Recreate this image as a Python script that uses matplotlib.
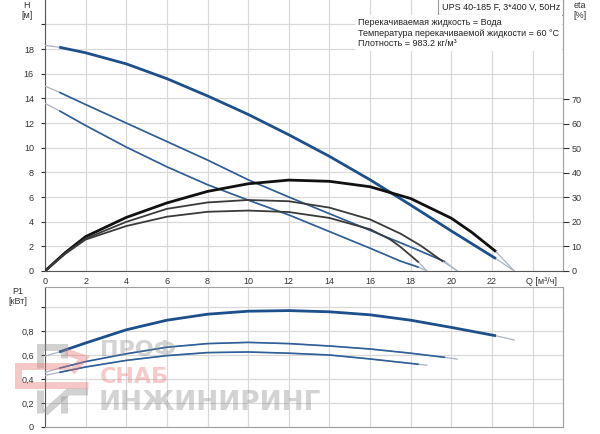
import matplotlib
matplotlib.use("Agg")
import matplotlib.pyplot as plt
from matplotlib.lines import Line2D

plt.rcParams['font.family'] = ['Liberation Sans', 'DejaVu Sans']
plt.rcParams['font.size'] = 6.5

# Head curves H [m] vs Q [m3/h] (3 speeds)
Q_h1 = [0, 0.7, 2, 4, 6, 8, 10, 12, 14, 16, 18, 20, 22.2, 23.1]
H1 = [18.3, 18.15, 17.7, 16.8, 15.6, 14.2, 12.7, 11.05, 9.3, 7.4, 5.35, 3.25, 1.0, 0]
Q_h2 = [0, 0.7, 2, 4, 6, 8, 10, 12, 14, 16, 18, 19.7, 20.3]
H2 = [15.0, 14.5, 13.5, 12.0, 10.5, 9.0, 7.4, 6.0, 4.65, 3.3, 1.95, 0.75, 0]
Q_h3 = [0, 0.7, 2, 4, 6, 8, 10, 12, 14, 16, 17.5, 18.4, 18.8]
H3 = [13.6, 13.0, 11.8, 10.05, 8.45, 7.0, 5.75, 4.55, 3.2, 1.85, 0.8, 0.3, 0]

# Efficiency curves eta [%]
Q_e1 = [0, 1, 2, 4, 6, 8, 10, 12, 14, 16, 18, 20, 21, 22.2, 23.1]
E1 = [0, 7.5, 14, 21.8, 27.7, 32.4, 35.5, 37.0, 36.5, 34.3, 29.5, 21.5, 15.8, 7.9, 0]
Q_e2 = [0, 1, 2, 4, 6, 8, 10, 12, 14, 16, 17.5, 18.5, 19.6, 20.3]
E2 = [0, 7.2, 13.2, 20, 25.3, 27.9, 28.9, 28.4, 25.8, 21.0, 15.2, 10.3, 3.8, 0]
Q_e3 = [0, 1, 2, 4, 6, 8, 10, 12, 14, 16, 17, 17.5, 18.4, 18.8]
E3 = [0, 7, 12.8, 18.3, 22.1, 24.1, 24.6, 24.0, 21.6, 17.0, 12.8, 9.8, 3.5, 0]

# Power curves P1 [kW]
Q_p1 = [0, 0.7, 2, 4, 6, 8, 10, 12, 14, 16, 18, 20, 22.2, 23.1]
P1 = [0.59, 0.625, 0.70, 0.81, 0.89, 0.94, 0.965, 0.97, 0.96, 0.935, 0.89, 0.83, 0.76, 0.725]
Q_p2 = [0, 0.7, 2, 4, 6, 8, 10, 12, 14, 16, 18, 19.7, 20.3]
P2 = [0.455, 0.49, 0.545, 0.61, 0.665, 0.695, 0.705, 0.695, 0.675, 0.65, 0.615, 0.58, 0.565]
Q_p3 = [0, 0.7, 2, 4, 6, 8, 10, 12, 14, 16, 18, 18.4, 18.8]
P3 = [0.43, 0.455, 0.50, 0.555, 0.595, 0.62, 0.625, 0.615, 0.60, 0.567, 0.53, 0.522, 0.515]

q_ticks = list(range(0, 26, 2))
q_labels = [str(v) for v in range(0, 24, 2)] + ['']
h_ticks = list(range(0, 22, 2))
h_labels = [str(v) for v in range(0, 20, 2)] + ['']
eta_ticks = list(range(0, 80, 10))
p_ticks = [0, 0.2, 0.4, 0.6, 0.8, 1.0]
p_labels = ['0', '0,2', '0,4', '0,6', '0,8', '']

title = 'UPS 40-185 F, 3*400 V, 50Hz'
info = ('Перекачиваемая жидкость = Вода\n'
        'Температура перекачиваемой жидкости = 60 °C\n'
        'Плотность = 983.2 кг/м³')

BLUE = '#1d4f8b'
BLUE2 = '#2f5f98'
THIN = '#aab4c4'
GRID = '#d9d9d9'
W, Hpx = 600, 434


def blue_curve(a, q, v, lw):
    a.plot(q, v, color=THIN, lw=0.9, zorder=3)
    a.plot(q[1:-1], v[1:-1], color=BLUE if lw > 1.5 else BLUE2, lw=lw,
           zorder=4, solid_capstyle='butt')


def eta_curve(a, q, v, lw, col):
    a.plot(q[-2:], v[-2:], color=THIN, lw=0.9, zorder=3)
    a.plot(q[:-1], v[:-1], color=col, lw=lw, zorder=4, solid_capstyle='butt')


def style(a):
    a.grid(True, color=GRID, lw=0.9)
    a.set_axisbelow(True)
    for s in a.spines.values():
        s.set_color('#a0a0a0')
    a.spines['left'].set_color('#555555')
    a.tick_params(colors='#333333', labelsize=6.5, length=3, width=0.8)


fig = plt.figure(figsize=(6, 4.34), dpi=100)

ax = fig.add_axes([45 / W, 1 - 271 / Hpx, 518 / W, 271 / Hpx])
style(ax)
ax.spines['top'].set_visible(False)
ax.spines['bottom'].set_color('#555555')
ax.set_xlim(0, 25.5)
ax.set_ylim(0, 271 / 12.33)
ax.set_xticks(q_ticks)
ax.set_xticklabels(q_labels)
ax.set_yticks(h_ticks)
ax.set_yticklabels(h_labels)
ax.tick_params(axis='x', length=0, pad=4)
ax.tick_params(axis='y', pad=5)

ax2 = ax.twinx()
ax2.set_ylim(0, 271 / 2.457)
ax2.set_yticks(eta_ticks)
ax2.tick_params(colors='#333333', labelsize=6.5, length=4, width=0.8, pad=2)
for s in ax2.spines.values():
    s.set_visible(False)

blue_curve(ax, Q_h1, H1, 2.0)
blue_curve(ax, Q_h2, H2, 1.2)
blue_curve(ax, Q_h3, H3, 1.2)
eta_curve(ax2, Q_e1, E1, 2.0, '#111111')
eta_curve(ax2, Q_e2, E2, 1.3, '#3a3a3a')
eta_curve(ax2, Q_e3, E3, 1.3, '#3a3a3a')

axp = fig.add_axes([45 / W, 1 - 427 / Hpx, 518 / W, 140 / Hpx])
style(axp)
axp.set_xlim(0, 25.5)
axp.set_ylim(0, 140 / 120)
axp.set_xticks(q_ticks)
axp.set_xticklabels([])
axp.tick_params(axis='x', length=0)
axp.set_yticks(p_ticks)
axp.set_yticklabels(p_labels)
axp.tick_params(axis='y', pad=5)
blue_curve(axp, Q_p1, P1, 2.0)
blue_curve(axp, Q_p2, P2, 1.2)
blue_curve(axp, Q_p3, P3, 1.2)

# axis captions
fig.text(27 / W, 1 - 6 / Hpx, 'H', ha='center', va='center', color='#333333')
fig.text(27 / W, 1 - 16 / Hpx, '[м]', ha='center', va='center', color='#333333')
fig.text(580 / W, 1 - 6 / Hpx, 'eta', ha='center', va='center', color='#333333')
fig.text(580 / W, 1 - 16 / Hpx, '[%]', ha='center', va='center', color='#333333')
fig.text(18 / W, 1 - 292 / Hpx, 'P1', ha='center', va='center', color='#333333')
fig.text(18 / W, 1 - 302 / Hpx, '[кВт]', ha='center', va='center', color='#333333')
fig.text(541 / W, 1 - 281 / Hpx, 'Q [м³/ч]', ha='center', va='center', color='#333333')

fig.text(560 / W, 1 - 7 / Hpx, title, ha='right', va='center', color='#222222',
         bbox=dict(facecolor='white', edgecolor='#999999', lw=0.8, pad=2.5))
fig.text(358 / W, 1 - 33 / Hpx, info, ha='left', va='center', color='#222222',
         linespacing=1.25,
         bbox=dict(facecolor='white', edgecolor='none', pad=2))

# watermark text
wm = dict(ha='left', va='center', family='DejaVu Sans', weight='bold',
          alpha=0.38, zorder=2)
fig.text(100 / W, 1 - 350 / Hpx, 'ПРОФ', fontsize=16, color='#8c8c8c', **wm)
fig.text(100 / W, 1 - 377 / Hpx, 'СНАБ', fontsize=16, color='#e87575', **wm)
fig.text(99 / W, 1 - 403 / Hpx, 'ИНЖИНИРИНГ', fontsize=19, color='#8c8c8c', **wm)


# watermark logo (drawn as strokes, pixel coords from top-left)
def stroke(pts, col):
    xs = [p[0] / W for p in pts]
    ys = [1 - p[1] / Hpx for p in pts]
    fig.add_artist(Line2D(xs, ys, transform=fig.transFigure, color=col,
                          lw=5, alpha=0.4, solid_joinstyle='miter',
                          solid_capstyle='butt', zorder=2))


stroke([(40, 368), (40, 347), (64, 347), (64, 358)], '#8c8c8c')
stroke([(70, 366), (18, 366), (18, 385), (88, 385)], '#e87575')
stroke([(66, 352), (84, 358), (72, 372)], '#e87575')
stroke([(40, 390), (40, 413)], '#8c8c8c')
stroke([(45, 413), (68, 392), (88, 392)], '#8c8c8c')
stroke([(64, 396), (64, 413)], '#8c8c8c')

fig.savefig('out.png', dpi=100)
